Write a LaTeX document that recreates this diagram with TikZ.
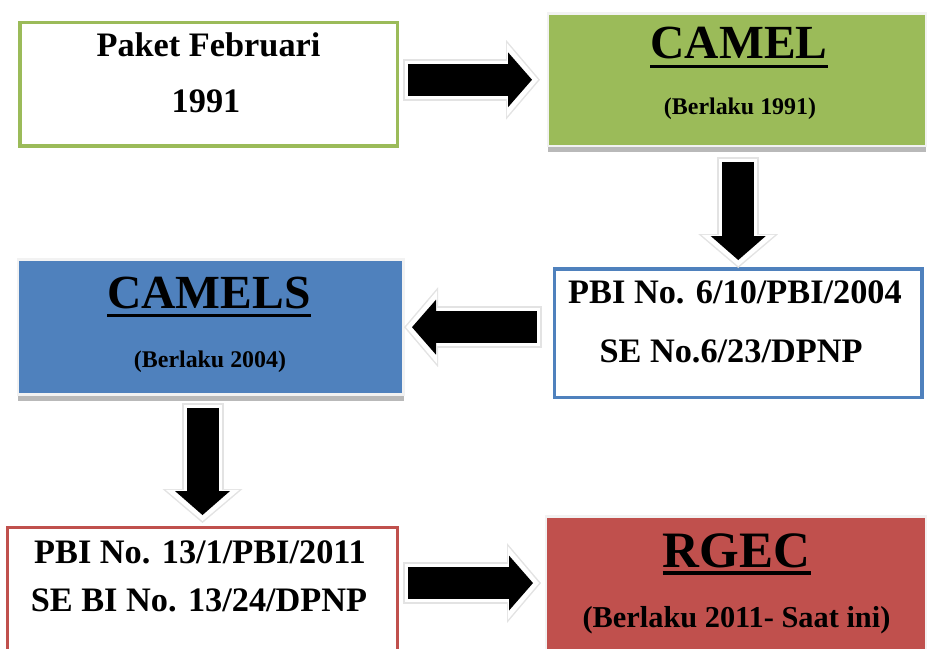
\documentclass[tikz,border=0pt]{standalone}
\usepackage{fontspec}
\setmainfont{Liberation Serif}
\usetikzlibrary{arrows.meta,shadows}
\definecolor{olgreen}{HTML}{9BBB59}
\definecolor{olblue}{HTML}{4F81BD}
\definecolor{olred}{HTML}{C0504D}

\begin{document}
\begin{tikzpicture}[
      x=1cm, y=1cm,
      bx/.style  = {rectangle, draw=#1, fill=white, line width=2.6pt, inner sep=0pt, outer sep=0pt},
      fb/.style  = {rectangle, fill=#1, draw=gray!10, line width=2pt, inner sep=0pt, outer sep=0pt,
                    drop shadow={shadow xshift=0pt, shadow yshift=-0.15cm, fill=gray!55, opacity=1}},
      tx/.style  = {anchor=base, inner sep=0pt, font=\bfseries\fontsize{24.4}{29}\selectfont},
      hd/.style  = {anchor=base, inner sep=0pt, font=\bfseries\fontsize{33.8}{40}\selectfont},
      sb/.style  = {anchor=base, inner sep=0pt, font=\bfseries\fontsize{17}{20}\selectfont},
      ul/.style  = {line width=2.2pt},
      blk/.style 2 args = {draw=black, line width=0.8cm, shorten <=#1, shorten >=#2,
                    -{Triangle[length=0.6cm, width=1.375cm, line width=0pt]},
                    preaction={draw=gray!22, line width=1.05cm, shorten <=#1-0.12cm, shorten >=#2-0.2cm,
                    -{Triangle[length=0.85cm, width=2.0cm, line width=0pt]}},
                    preaction={draw=white, line width=0.95cm, shorten <=#1-0.08cm, shorten >=#2-0.15cm,
                    -{Triangle[length=0.78cm, width=1.84cm, line width=0pt]}}},
    ]
    \useasboundingbox (0,0) rectangle (23.2,-16.225);

    % boxes
    \node[bx=olgreen, minimum width=9.44cm, minimum height=3.08cm] (b1) at (5.219, -2.103) {};
    \node[fb=olgreen, minimum width=9.45cm, minimum height=3.31cm] (b2) at (18.425, -1.994) {};
    \node[bx=olblue, line width=2.4pt, minimum width=9.19cm, minimum height=3.21cm] (b3) at (18.456, -8.331) {};
    \node[fb=olblue, minimum width=9.64cm, minimum height=3.385cm] (b4) at (5.27, -8.18) {};
    \node[bx=olred, minimum width=9.75cm, minimum height=3.19cm] (b5) at (5.0625, -14.781) {};
    \node[fb=olred, minimum width=9.5cm, minimum height=3.59cm] (b6) at (18.4, -14.706) {};

    % arrows
    \draw[blk={0.26cm}{0.4cm}] (b1.east |- b2.west) -- (b2.west);
    \draw[blk={0.4cm}{0.225cm}] (b3.north |- b2.south) -- (b3.north);
    \draw[blk={0.44cm}{0.21cm}] (b3.west |- b4.east) -- (b4.east);
    \draw[blk={0.325cm}{0.31cm}] (b5.north |- b4.south) -- (b5.north);
    \draw[blk={0.26cm}{0.325cm}] ([yshift=0.13cm]b5.east |- b6.west) -- ([yshift=0.13cm]b6.west);

    % texts
    \node[tx] (t1a) at (5.2125, -1.425) {Paket Februari};
    \node[tx] (t1b) at (5.15, -2.825) {1991};

    \node[hd] (c2) at (18.475, -1.475) {CAMEL};
    \draw[ul] ([yshift=-0.19cm]c2.base west) -- ([yshift=-0.19cm]c2.base east);
    \node[sb] (s2) at (18.5, -2.8625) {(Berlaku 1991)};

    \node[tx] (t3a) at (18.375, -7.575) {PBI No. 6/10/PBI/2004};
    \node[tx] (t3b) at (18.275, -9.05) {SE No.6/23/DPNP};

    \node[hd] (c4) at (5.225, -7.7) {CAMELS};
    \draw[ul] ([yshift=-0.19cm]c4.base west) -- ([yshift=-0.19cm]c4.base east);
    \node[sb] (s4) at (5.25, -9.175) {(Berlaku 2004)};

    \node[tx] (t5a) at (5.0, -14.075) {PBI No. 13/1/PBI/2011};
    \node[tx] (t5b) at (4.975, -15.29) {SE BI No. 13/24/DPNP};

    \node[hd, font=\bfseries\fontsize{36.3}{42}\selectfont] (c6) at (18.4125, -14.175) {RGEC};
    \draw[ul, line width=2.8pt] ([yshift=-0.15cm]c6.base west) -- ([yshift=-0.15cm]c6.base east);
    \node[sb, font=\bfseries\fontsize{21.6}{26}\selectfont] (s6) at (18.4125, -15.675) {(Berlaku 2011- Saat ini)};
  \end{tikzpicture}
\end{document}
